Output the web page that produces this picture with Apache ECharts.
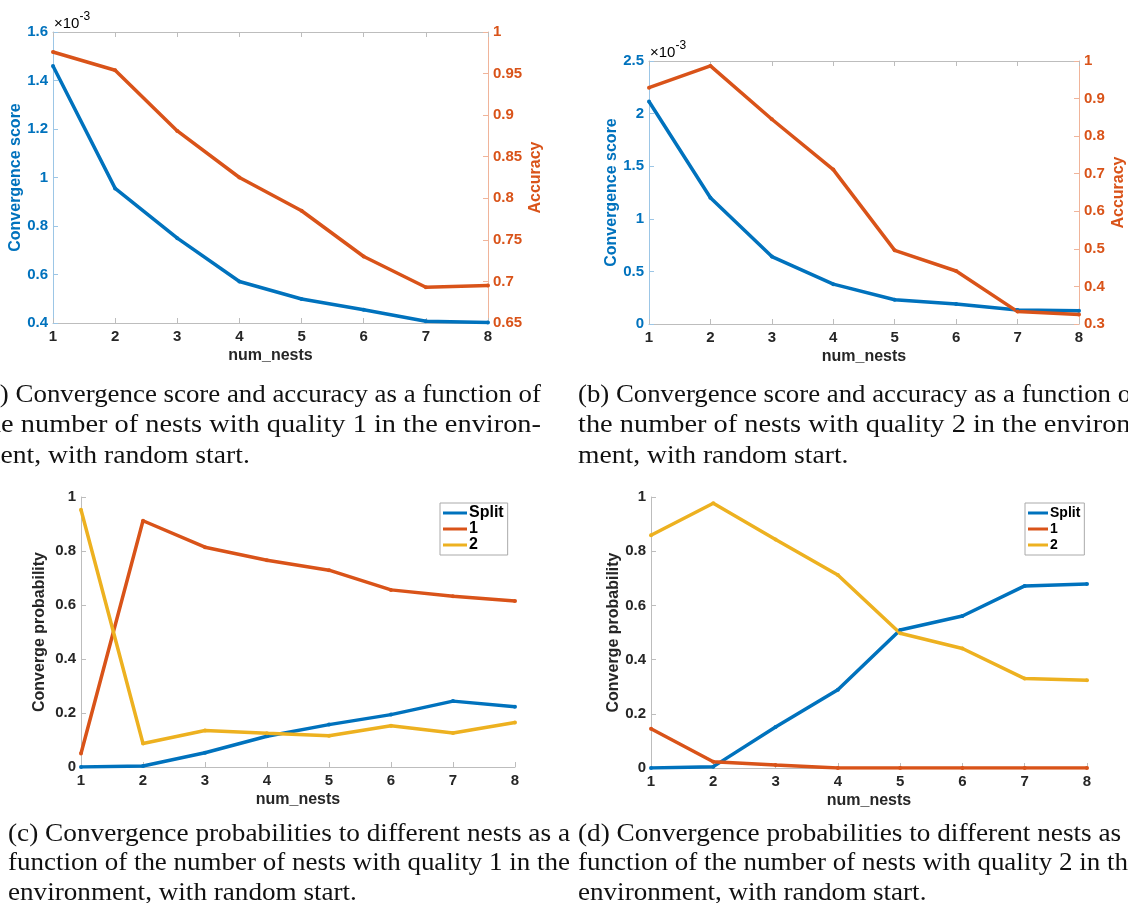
<!DOCTYPE html>
<html>
<head>
<meta charset="utf-8">
<script src="https://cdn.jsdelivr.net/npm/echarts@6/dist/echarts.min.js"></script>
<style>
  html, body { margin: 0; padding: 0; background: #ffffff; }
  #main { width: 1128px; height: 903px; }
</style>
</head>
<body>
<div id="main"></div>
<script>
// x values shared by all four panels
const numNests = [1, 2, 3, 4, 5, 6, 7, 8];

// (a) nests with quality 1: convergence score (in units of 1e-3) and accuracy
const scoreA = [1.46, 0.955, 0.75, 0.571, 0.499, 0.455, 0.407, 0.402];
const accA   = [0.976, 0.954, 0.881, 0.825, 0.785, 0.73, 0.693, 0.695];

// (b) nests with quality 2: convergence score (in units of 1e-3) and accuracy
const scoreB = [2.115, 1.20, 0.641, 0.379, 0.23, 0.19, 0.133, 0.126];
const accB   = [0.929, 0.987, 0.845, 0.711, 0.496, 0.441, 0.333, 0.325];

// (c) convergence probabilities, quality 1
const splitC = [0, 0.004, 0.053, 0.114, 0.157, 0.194, 0.244, 0.223];
const nest1C = [0.05, 0.912, 0.814, 0.766, 0.729, 0.656, 0.632, 0.615];
const nest2C = [0.953, 0.087, 0.135, 0.125, 0.116, 0.153, 0.126, 0.165];

// (d) convergence probabilities, quality 2
const splitD = [0, 0.005, 0.151, 0.289, 0.509, 0.561, 0.672, 0.679];
const nest1D = [0.145, 0.023, 0.011, 0, 0, 0, 0, 0];
const nest2D = [0.859, 0.977, 0.843, 0.712, 0.497, 0.441, 0.330, 0.324];

// axis ranges: [min, max, step]
const xRange      = [1, 8, 1];
const scoreRangeA = [0.4, 1.6, 0.2];
const accRangeA   = [0.65, 1, 0.05];
const scoreRangeB = [0, 2.5, 0.5];
const accRangeB   = [0.3, 1, 0.1];
const probRange   = [0, 1, 0.2];

const legendNames = ['Split', '1', '2'];
const exponentLabel = ['×10', '-3'];

const captionA = ['(a) Convergence score and accuracy as a function of',
                  'the number of nests with quality 1 in the environ-',
                  'ment, with random start.'];
const captionB = ['(b) Convergence score and accuracy as a function of',
                  'the number of nests with quality 2 in the environ-',
                  'ment, with random start.'];
const captionC = ['(c) Convergence probabilities to different nests as a',
                  'function of the number of nests with quality 1 in the',
                  'environment, with random start.'];
const captionD = ['(d) Convergence probabilities to different nests as a',
                  'function of the number of nests with quality 2 in the',
                  'environment, with random start.'];

// ---- styling ----
const BLUE = '#0072BD', ORANGE = '#D95319', YELLOW = '#EDB120';
const INK = '#262626';
const GRAY_LINE = '#bdbdbd';
const SANS = '"Liberation Sans", Arial, Helvetica, sans-serif';
const TICK_SIZE = 15, TITLE_SIZE = 16;

const grids = [
  { left: 53,  top: 32,  width: 435, height: 291 },  // a
  { left: 649, top: 61,  width: 435, height: 263 },  // b
  { left: 81,  top: 497, width: 434, height: 270 },  // c
  { left: 651, top: 497, width: 436, height: 271 }   // d
];

function pairs(ys) { return numNests.map((x, i) => [x, ys[i]]); }

function xAxisBottom(gi) {
  return {
    type: 'value', gridIndex: gi, position: 'bottom',
    min: xRange[0], max: xRange[1], interval: xRange[2],
    name: 'num_nests', nameLocation: 'middle', nameGap: 25,
    nameTextStyle: { fontFamily: SANS, fontWeight: 'bold', fontSize: TITLE_SIZE, color: INK },
    axisLine: { show: true, onZero: false, lineStyle: { color: GRAY_LINE, width: 1 } },
    axisTick: { show: true, inside: true, length: 5, lineStyle: { color: GRAY_LINE } },
    axisLabel: { margin: 6, fontFamily: SANS, fontWeight: 'bold', fontSize: TICK_SIZE, color: INK },
    splitLine: { show: false }
  };
}
function xAxisTop(gi) {
  return {
    type: 'value', gridIndex: gi, position: 'top',
    min: xRange[0], max: xRange[1], interval: xRange[2],
    axisLine: { show: true, onZero: false, lineStyle: { color: GRAY_LINE, width: 1 } },
    axisTick: { show: true, inside: true, length: 5, lineStyle: { color: GRAY_LINE } },
    axisLabel: { show: false },
    splitLine: { show: false }
  };
}
function yAxis(gi, range, pos, name, color, lineColor, gap) {
  return {
    type: 'value', gridIndex: gi, position: pos,
    min: range[0], max: range[1], interval: range[2],
    name: name, nameLocation: 'middle', nameGap: gap, nameRotate: 90,
    nameTextStyle: { fontFamily: SANS, fontWeight: 'bold', fontSize: TITLE_SIZE, color: color },
    axisLine: { show: true, onZero: false, lineStyle: { color: lineColor, width: 1 } },
    axisTick: { show: true, inside: true, length: 5, lineStyle: { color: lineColor } },
    axisLabel: { margin: 5, fontFamily: SANS, fontWeight: 'bold', fontSize: TICK_SIZE, color: color },
    splitLine: { show: false }
  };
}
function line(name, xi, yi, ys, color) {
  return {
    type: 'line', name: name, xAxisIndex: xi, yAxisIndex: yi,
    data: pairs(ys), symbol: 'circle', symbolSize: 4, showSymbol: true,
    lineStyle: { color: color, width: 3.5 }, itemStyle: { color: color },
    emphasis: { disabled: true }, animation: false
  };
}
function legend(left, top, fontSize, itemWidth) {
  return {
    data: legendNames, orient: 'vertical', left: left, top: top,
    icon: 'rect', itemWidth: itemWidth, itemHeight: 3, itemGap: 0,
    padding: [2, 4, 2, 3], borderColor: '#aaaaaa', borderWidth: 1,
    backgroundColor: '#ffffff', selectedMode: false,
    textStyle: { fontFamily: SANS, fontWeight: 'bold', fontSize: fontSize, color: '#000', lineHeight: 16, padding: [0, 0, 0, -3] }
  };
}

// ---- captions (serif, justified to the column width) ----
const measureCtx = document.createElement('canvas').getContext('2d');
const CAP_FONT = '25px "Liberation Serif", "Times New Roman", serif';
measureCtx.font = CAP_FONT;
function caption(lines, x, yTop, width, lead) {
  const widths = lines.map(l => measureCtx.measureText(l).width);
  const full = widths.slice(0, lines.length - 1).map(w => width / w);
  const avg = full.reduce((s, v) => s + v, 0) / full.length;
  return lines.map((l, i) => ({
    type: 'text', x: x, y: yTop + i * lead,
    scaleX: i < lines.length - 1 ? full[i] : avg,
    silent: true,
    style: { text: l, font: CAP_FONT, fill: '#111111', verticalAlign: 'middle', textAlign: 'left' }
  }));
}
function exponent(gi) {
  const g = grids[gi];
  return {
    type: 'text', x: g.left + 1, y: g.top - 21, silent: true,
    style: {
      text: '{m|' + exponentLabel[0] + '}{s|' + exponentLabel[1] + '}',
      rich: {
        m: { fontFamily: SANS, fontSize: 15, color: BLUE, lineHeight: 20, verticalAlign: 'bottom' },
        s: { fontFamily: SANS, fontSize: 12, color: BLUE, lineHeight: 20, verticalAlign: 'top' }
      }
    }
  };
}

const option = {
  backgroundColor: '#ffffff',
  animation: false,
  grid: grids.map(g => Object.assign({ containLabel: false }, g)),
  xAxis: [xAxisBottom(0), xAxisTop(0), xAxisBottom(1), xAxisTop(1), xAxisBottom(2), xAxisBottom(3)],
  yAxis: [
    yAxis(0, scoreRangeA, 'left',  'Convergence score', BLUE,   '#9cc6e6', 27),
    yAxis(0, accRangeA,   'right', 'Accuracy',          ORANGE, '#f0b49a', 40),
    yAxis(1, scoreRangeB, 'left',  'Convergence score', BLUE,   '#9cc6e6', 28),
    yAxis(1, accRangeB,   'right', 'Accuracy',          ORANGE, '#f0b49a', 32),
    yAxis(2, probRange,   'left',  'Converge probability', INK, GRAY_LINE, 33),
    yAxis(3, probRange,   'left',  'Converge probability', INK, GRAY_LINE, 26)
  ],
  legend: [legend(440, 503, 16, 24), legend(1025, 503, 14, 20)],
  series: [
    line('Convergence score', 0, 0, scoreA, BLUE),
    line('Accuracy', 0, 1, accA, ORANGE),
    line('Convergence score', 2, 2, scoreB, BLUE),
    line('Accuracy', 2, 3, accB, ORANGE),
    line('Split', 4, 4, splitC, BLUE),
    line('1', 4, 4, nest1C, ORANGE),
    line('2', 4, 4, nest2C, YELLOW),
    line('Split', 5, 5, splitD, BLUE),
    line('1', 5, 5, nest1D, ORANGE),
    line('2', 5, 5, nest2D, YELLOW)
  ],
  graphic: [
    exponent(0), exponent(1),
    ...caption(captionA, -21, 395, 562, 30.5),
    ...caption(captionB, 578, 395, 562, 30.5),
    ...caption(captionC, 8, 834, 562, 29.5),
    ...caption(captionD, 578, 834, 562, 29.5)
  ]
};

const chart = echarts.init(document.getElementById('main'), null, { renderer: 'canvas' });
chart.setOption(option);
</script>
</body>
</html>
